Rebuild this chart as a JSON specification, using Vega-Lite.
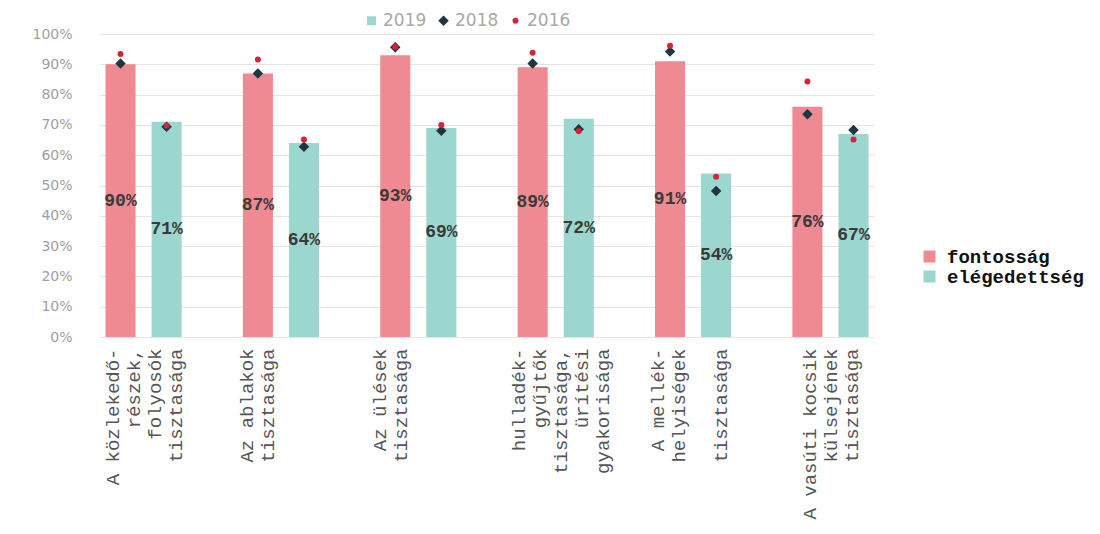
{
  "$schema": "https://vega.github.io/schema/vega-lite/v6.json",
  "autosize": "none",
  "padding": {"left": 100, "top": 34, "right": 226, "bottom": 197},
  "width": 774,
  "height": 303,
  "background": "white",
  "config": {"view": {"stroke": null}},
  "datasets": {
    "bars": [
      {"category": "A közlekedő-|részek,|folyosók|tisztasága", "type": "fontosság", "value": 0.90},
      {"category": "A közlekedő-|részek,|folyosók|tisztasága", "type": "elégedettség", "value": 0.71},
      {"category": "Az ablakok|tisztasága", "type": "fontosság", "value": 0.87},
      {"category": "Az ablakok|tisztasága", "type": "elégedettség", "value": 0.64},
      {"category": "Az ülések|tisztasága", "type": "fontosság", "value": 0.93},
      {"category": "Az ülések|tisztasága", "type": "elégedettség", "value": 0.69},
      {"category": "hulladék-|gyűjtők|tisztasága,|ürítési|gyakorisága", "type": "fontosság", "value": 0.89},
      {"category": "hulladék-|gyűjtők|tisztasága,|ürítési|gyakorisága", "type": "elégedettség", "value": 0.72},
      {"category": "A mellék-|helyiségek|\u2800|tisztasága", "type": "fontosság", "value": 0.91},
      {"category": "A mellék-|helyiségek|\u2800|tisztasága", "type": "elégedettség", "value": 0.54},
      {"category": "A vasúti kocsik|külsejének|tisztasága", "type": "fontosság", "value": 0.76},
      {"category": "A vasúti kocsik|külsejének|tisztasága", "type": "elégedettség", "value": 0.67}
    ],
    "points": [
      {"category": "A közlekedő-|részek,|folyosók|tisztasága", "type": "fontosság", "year": "2018", "value": 0.903},
      {"category": "A közlekedő-|részek,|folyosók|tisztasága", "type": "elégedettség", "year": "2018", "value": 0.694},
      {"category": "Az ablakok|tisztasága", "type": "fontosság", "year": "2018", "value": 0.870},
      {"category": "Az ablakok|tisztasága", "type": "elégedettség", "year": "2018", "value": 0.628},
      {"category": "Az ülések|tisztasága", "type": "fontosság", "year": "2018", "value": 0.956},
      {"category": "Az ülések|tisztasága", "type": "elégedettség", "year": "2018", "value": 0.681},
      {"category": "hulladék-|gyűjtők|tisztasága,|ürítési|gyakorisága", "type": "fontosság", "year": "2018", "value": 0.903},
      {"category": "hulladék-|gyűjtők|tisztasága,|ürítési|gyakorisága", "type": "elégedettség", "year": "2018", "value": 0.686},
      {"category": "A mellék-|helyiségek|\u2800|tisztasága", "type": "fontosság", "year": "2018", "value": 0.942},
      {"category": "A mellék-|helyiségek|\u2800|tisztasága", "type": "elégedettség", "year": "2018", "value": 0.482},
      {"category": "A vasúti kocsik|külsejének|tisztasága", "type": "fontosság", "year": "2018", "value": 0.735},
      {"category": "A vasúti kocsik|külsejének|tisztasága", "type": "elégedettség", "year": "2018", "value": 0.683},
      {"category": "A közlekedő-|részek,|folyosók|tisztasága", "type": "fontosság", "year": "2016", "value": 0.934},
      {"category": "A közlekedő-|részek,|folyosók|tisztasága", "type": "elégedettség", "year": "2016", "value": 0.697},
      {"category": "Az ablakok|tisztasága", "type": "fontosság", "year": "2016", "value": 0.916},
      {"category": "Az ablakok|tisztasága", "type": "elégedettség", "year": "2016", "value": 0.652},
      {"category": "Az ülések|tisztasága", "type": "fontosság", "year": "2016", "value": 0.958},
      {"category": "Az ülések|tisztasága", "type": "elégedettség", "year": "2016", "value": 0.700},
      {"category": "hulladék-|gyűjtők|tisztasága,|ürítési|gyakorisága", "type": "fontosság", "year": "2016", "value": 0.938},
      {"category": "hulladék-|gyűjtők|tisztasága,|ürítési|gyakorisága", "type": "elégedettség", "year": "2016", "value": 0.680},
      {"category": "A mellék-|helyiségek|\u2800|tisztasága", "type": "fontosság", "year": "2016", "value": 0.961},
      {"category": "A mellék-|helyiségek|\u2800|tisztasága", "type": "elégedettség", "year": "2016", "value": 0.529},
      {"category": "A vasúti kocsik|külsejének|tisztasága", "type": "fontosság", "year": "2016", "value": 0.843},
      {"category": "A vasúti kocsik|külsejének|tisztasága", "type": "elégedettség", "year": "2016", "value": 0.652}
    ]
  },
  "encoding": {
    "x": {
      "field": "category", "type": "nominal", "sort": null, "title": null,
      "scale": {"paddingInner": 0.446, "paddingOuter": 0.04},
      "axis": {
        "labelExpr": "split(datum.label, '|')",
        "labelAngle": -90, "labelAlign": "right", "labelBaseline": "middle",
        "labelFont": "Liberation Mono", "labelFontSize": 19, "labelLineHeight": 21,
        "labelColor": "#555555", "labelPadding": 11, "labelLimit": 0,
        "domain": false, "ticks": false, "grid": false,
        "labelOffset": {
          "condition": [
            {"test": "indexof(datum.value, 'hulladék') == 0", "value": -37},
            {"test": "indexof(datum.value, 'A közlekedő') == 0", "value": -31},
            {"test": "indexof(datum.value, 'A mellék') == 0", "value": -35},
            {"test": "indexof(datum.value, 'Az ablakok') == 0", "value": -34},
            {"test": "indexof(datum.value, 'Az ülések') == 0", "value": -38},
            {"test": "indexof(datum.value, 'A vasúti') == 0", "value": -20}
          ],
          "value": -30
        }
      }
    },
    "xOffset": {
      "field": "type", "type": "nominal",
      "scale": {"domain": ["fontosság", "elégedettség"], "paddingInner": 0.348, "paddingOuter": 0}
    }
  },
  "layer": [
    {
      "data": {"name": "bars"},
      "mark": {"type": "bar"},
      "encoding": {
        "y": {
          "field": "value", "type": "quantitative", "title": null,
          "scale": {"domain": [0, 1], "nice": false},
          "axis": {
            "values": [0, 0.1, 0.2, 0.3, 0.4, 0.5, 0.6, 0.7, 0.8, 0.9, 1],
            "format": ".0%", "domain": false, "ticks": false,
            "labelFont": "DejaVu Sans", "labelFontSize": 14, "labelColor": "#a0a0a0",
            "labelPadding": 28, "gridColor": "#e4e4e4", "gridWidth": 1
          }
        },
        "color": {
          "field": "type", "type": "nominal",
          "scale": {"domain": ["fontosság", "elégedettség"], "range": ["#ef8a92", "#9bd7ce"]},
          "legend": {
            "title": null, "orient": "none", "legendX": 820, "legendY": 213,
            "symbolType": "square", "symbolSize": 144, "symbolStrokeWidth": 0,
            "labelFont": "Liberation Mono", "labelFontWeight": "bold", "labelFontSize": 19,
            "labelColor": "#111111", "labelOffset": 8, "rowPadding": -2, "padding": 0
          }
        }
      }
    },
    {
      "data": {"name": "bars"},
      "mark": {"type": "text", "font": "Liberation Mono", "fontWeight": "bold", "fontSize": 18, "color": "#3a3a3a", "align": "center", "baseline": "middle"},
      "encoding": {
        "y": {"field": "value", "type": "quantitative", "scale": {"domain": [0, 2], "nice": false}, "axis": null},
        "text": {"field": "value", "type": "quantitative", "format": ".0%"}
      }
    },
    {
      "data": {"name": "points"},
      "mark": {"type": "point", "filled": true, "opacity": 1},
      "encoding": {
        "y": {"field": "value", "type": "quantitative", "scale": {"domain": [0, 1], "nice": false}, "axis": null},
        "color": {
          "field": "year", "type": "nominal",
          "scale": {"domain": ["2019", "2018", "2016"], "range": ["#9bd7ce", "#1f3540", "#d62339"]},
          "legend": {
            "title": null, "orient": "none", "legendX": 263, "legendY": -22, "direction": "horizontal",
            "labelFont": "DejaVu Sans", "labelFontSize": 17, "labelColor": "#a8a8a8",
            "labelOffset": 3, "columnPadding": 8, "padding": 0, "symbolStrokeWidth": 0
          }
        },
        "shape": {
          "field": "year", "type": "nominal",
          "scale": {"domain": ["2019", "2018", "2016"], "range": ["square", "diamond", "circle"]},
          "legend": {
            "title": null, "orient": "none", "legendX": 263, "legendY": -22, "direction": "horizontal",
            "labelFont": "DejaVu Sans", "labelFontSize": 17, "labelColor": "#a8a8a8",
            "labelOffset": 3, "columnPadding": 8, "padding": 0, "symbolStrokeWidth": 0
          }
        },
        "size": {
          "field": "year", "type": "nominal",
          "scale": {"type": "ordinal", "domain": ["2019", "2018", "2016"], "range": [81, 110, 36]},
          "legend": {
            "title": null, "orient": "none", "legendX": 263, "legendY": -22, "direction": "horizontal",
            "labelFont": "DejaVu Sans", "labelFontSize": 17, "labelColor": "#a8a8a8",
            "labelOffset": 3, "columnPadding": 8, "padding": 0, "symbolStrokeWidth": 0
          }
        }
      }
    }
  ],
  "resolve": {"scale": {"color": "independent", "shape": "independent", "size": "independent", "y": "independent"}}
}
